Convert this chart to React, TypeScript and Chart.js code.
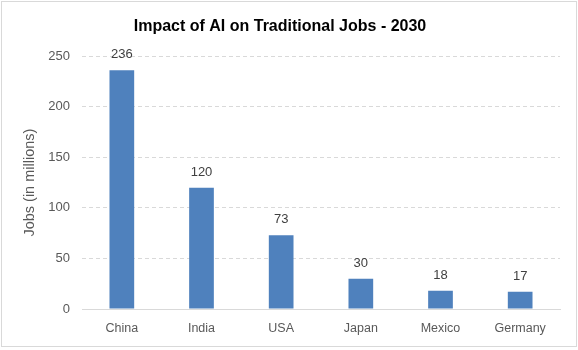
import React, { useEffect, useRef } from "react";
import { Chart, registerables } from "chart.js";

Chart.register(...registerables);

const categories: string[] = ["China", "India", "USA", "Japan", "Mexico", "Germany"];
const jobs: number[] = [236, 120, 73, 30, 18, 17];
const titleText = "Impact of AI on Traditional Jobs - 2030";
const yTitle = "Jobs (in millions)";

const FONT = "'Liberation Sans', Arial, sans-serif";

const labelPlugin = {
  id: "barLabels",
  afterDatasetsDraw(chart: any) {
    const ctx = chart.ctx;
    const meta = chart.getDatasetMeta(0);
    ctx.save();
    ctx.font = `13px ${FONT}`;
    ctx.fillStyle = "#404040";
    ctx.textAlign = "center";
    ctx.textBaseline = "bottom";
    meta.data.forEach((el: any, i: number) => {
      ctx.fillText(String(jobs[i]), el.x, el.y - 9);
    });
    ctx.restore();
  },
};

export default function App() {
  const ref = useRef<HTMLCanvasElement | null>(null);
  useEffect(() => {
    document.body.style.margin = "0";
    const chart = new Chart(ref.current!, {
      type: "bar",
      data: {
        labels: categories,
        datasets: [
          {
            data: jobs,
            backgroundColor: "#4F81BD",
            barPercentage: 0.31,
            categoryPercentage: 1,
          },
        ],
      },
      options: {
        animation: false,
        responsive: false,
        maintainAspectRatio: false,
        layout: { padding: { left: 0, right: 18, top: 0, bottom: 0 } },
        plugins: {
          legend: { display: false },
          tooltip: { enabled: false },
          title: {
            display: true,
            text: titleText,
            color: "#000000",
            font: { family: FONT, size: 16, weight: "bold", lineHeight: 1.2 },
            padding: { top: 17, bottom: 20 },
          },
        },
        scales: {
          x: {
            grid: { display: false, drawTicks: false },
            border: { display: true, color: "#d9d9d9", width: 1 },
            ticks: { color: "#595959", font: { family: FONT, size: 12.5 }, padding: 12 },
            afterFit(scale: any) {
              scale.height = 41;
            },
          },
          y: {
            min: 0,
            max: 250,
            ticks: {
              stepSize: 50,
              color: "#595959",
              font: { family: FONT, size: 13 },
              padding: 12,
            },
            grid: { color: "#d9d9d9", drawTicks: false },
            border: { display: false, dash: [4, 3] },
            title: {
              display: true,
              text: yTitle,
              color: "#595959",
              font: { family: FONT, size: 14.5 },
              padding: { top: 21, bottom: 0 },
            },
            afterFit(scale: any) {
              scale.width = 82;
            },
          },
        },
      },
      plugins: [labelPlugin],
    });
    return () => chart.destroy();
  }, []);
  return (
    <div style={{ position: "relative", width: 578, height: 350, background: "#fff" }}>
      <canvas ref={ref} width={578} height={350} style={{ display: "block" }} />
      <div
        style={{
          position: "absolute",
          left: 1,
          top: 1,
          width: 574,
          height: 344,
          border: "1px solid #d9d9d9",
          pointerEvents: "none",
        }}
      />
    </div>
  );
}
